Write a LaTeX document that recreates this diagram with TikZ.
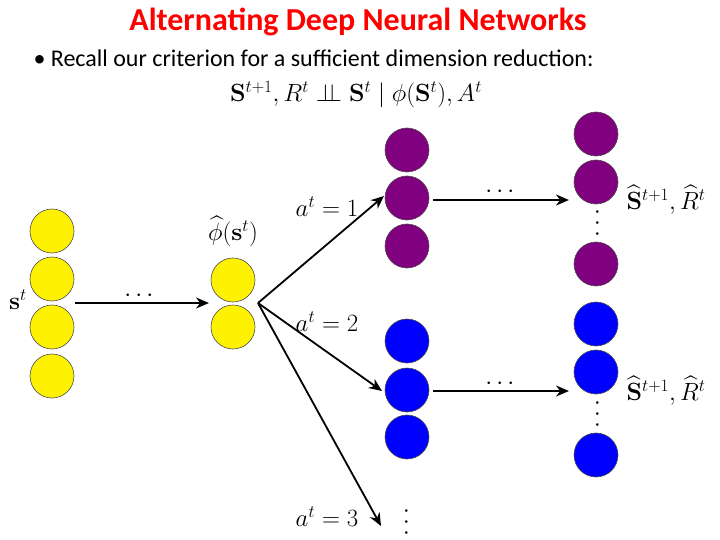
\documentclass[tikz,border=0pt]{standalone}
\usepackage{amsmath,amssymb}
\usepackage[no-math]{fontspec}
\setmainfont{Carlito}
\usetikzlibrary{arrows.meta}
\newcommand{\indep}{\mathrel{\perp\!\!\!\perp}}
\begin{document}
\begin{tikzpicture}[x=1pt,y=-1pt,
  neu/.style={circle,draw=black!70,line width=0.6pt,minimum size=44pt,inner sep=0pt},
  yel/.style={neu,fill=yellow},
  pur/.style={neu,fill={rgb,255:red,128;green,0;blue,128}},
  blu/.style={neu,fill={rgb,255:red,0;green,0;blue,255}},
  arr/.style={-{Stealth[length=13pt,width=11pt]},line width=1.8pt},
  lab/.style={font=\fontsize{24}{28}\selectfont},
  vd/.style={font=\fontsize{24}{28}\selectfont,rotate=90,inner sep=0pt}]
\useasboundingbox (0,0) rectangle (720,540);
\node[font=\bfseries\fontsize{32}{34}\selectfont,text=red] (title) at (358,22) {Alternating Deep Neural Networks};
\node[anchor=west,font=\fontsize{24}{28}\selectfont] (bul) at (30,58) {\textbullet\ Recall our criterion for a sufficient dimension reduction:};
\node[font=\fontsize{25}{28}\selectfont] (crit) at (356,95) {$\mathbf{S}^{t+1},R^t\indep\mathbf{S}^t\mid\phi(\mathbf{S}^t),A^t$};
\foreach \y [count=\i] in {231,279,327,376} \node[yel] (l\i) at (52,\y) {};
\node[yel] (m1) at (233,280) {};
\node[yel] (m2) at (233,327) {};
\foreach \y [count=\i] in {150,198,246} \node[pur] (p\i) at (407,\y) {};
\foreach \y [count=\i] in {341,390,437} \node[blu] (b\i) at (407,\y) {};
\node[pur] (rp1) at (596,134) {};
\node[pur] (rp2) at (596,182) {};
\node[pur] (rp3) at (596,264) {};
\node[blu] (rb1) at (596,324) {};
\node[blu] (rb2) at (596,372) {};
\node[blu] (rb3) at (596,455) {};
\node[vd] (vd1) at (598,221) {$\cdots$};
\node[vd] (vd2) at (598,412) {$\cdots$};
\node[vd] (vd3) at (407,520) {$\cdots$};
\coordinate (a0) at (75,303);
\coordinate (a1) at (209,303);
\coordinate (hub) at (258,303);
\coordinate (t1) at (384,196);
\coordinate (t2) at (382,391);
\coordinate (t3) at (381,526);
\coordinate (c1) at (433,200);
\coordinate (d1) at (569,200);
\coordinate (c2) at (433,391);
\coordinate (d2) at (569,391);
\draw[arr] (a0) -- (a1);
\draw[arr] (hub) -- (t1);
\draw[arr] (hub) -- (t2);
\draw[arr] (hub) -- (t3);
\draw[arr] (c1) -- (d1);
\draw[arr] (c2) -- (d2);
\node[lab] (dd1) at (141,296) {$\cdots$};
\node[lab] (dd2) at (502,192) {$\cdots$};
\node[lab] (dd3) at (502,384) {$\cdots$};
\node[lab] (st) at (18,300) {$\mathbf{s}^t$};
\node[lab] (phi) at (233,231) {$\widehat{\phi}(\mathbf{s}^t)$};
\node[lab] (a1l) at (327,207) {$a^t=1$};
\node[lab] (a2l) at (327,322) {$a^t=2$};
\node[lab] (a3l) at (327,517) {$a^t=3$};
\node[lab] (o1) at (666,200) {$\widehat{\mathbf{S}}^{t+1},\widehat{R}^t$};
\node[lab] (o2) at (666,391) {$\widehat{\mathbf{S}}^{t+1},\widehat{R}^t$};
\end{tikzpicture}
\end{document}
